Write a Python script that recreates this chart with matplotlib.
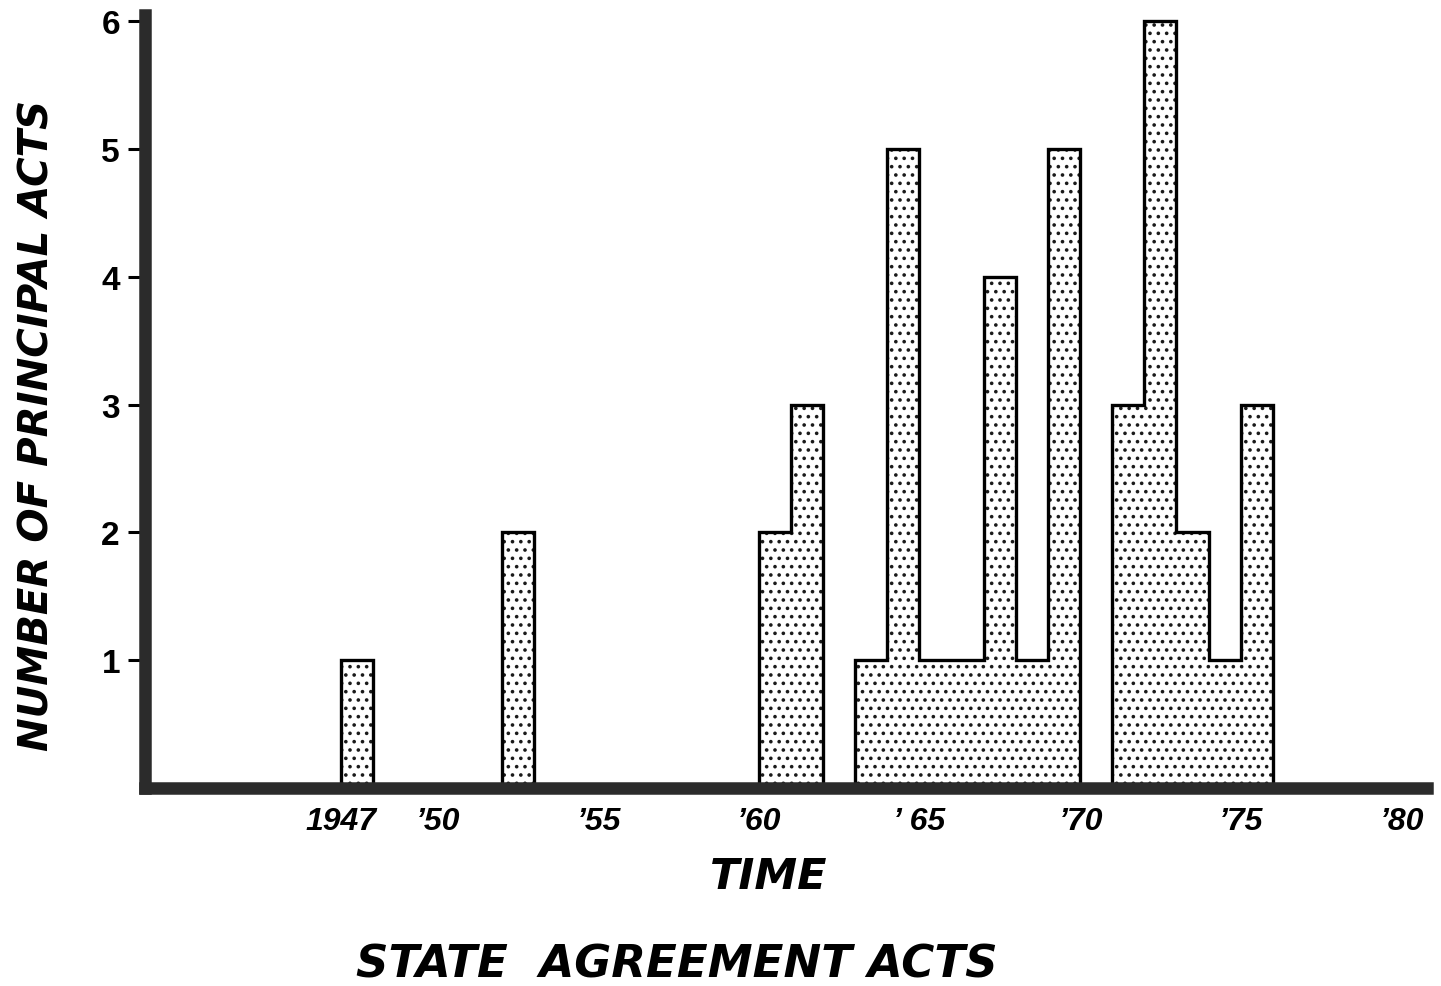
import matplotlib
matplotlib.use("Agg")
import matplotlib.pyplot as plt
import numpy as np

# --- Data ---
years = [1947, 1948, 1949, 1950, 1951, 1952, 1953, 1954, 1955, 1956, 1957, 1958,
         1959, 1960, 1961, 1962, 1963, 1964, 1965, 1966, 1967, 1968, 1969, 1970,
         1971, 1972, 1973, 1974, 1975]
acts = [1, 0, 0, 0, 0, 2, 0, 0, 0, 0, 0, 0,
        0, 2, 3, 0, 1, 5, 1, 1, 4, 1, 5, 0,
        3, 6, 2, 1, 3]
tick_years = [1947, 1950, 1955, 1960, 1965, 1970, 1975, 1980]
tick_labels = ["1947", "\u201950", "\u201955", "\u201960", "\u2019 65", "\u201970", "\u201975", "\u201980"]

plt.rcParams["font.family"] = ["Liberation Sans", "DejaVu Sans"]
plt.rcParams["hatch.color"] = "#1a1a1a"
plt.rcParams["hatch.linewidth"] = 1.4

fig = plt.figure(figsize=(14.41, 9.87), dpi=100)
ax = fig.add_axes([0.1006, 0.2006, 0.8897, 0.7832])

edges = np.append(years, years[-1] + 1)

# dotted fill, then the stepped outline on top
ax.stairs(acts, edges, baseline=0, fill=True, facecolor="white",
          hatch="..", linewidth=0, edgecolor="#1a1a1a")
ax.stairs(acts, edges, baseline=0, fill=False, color="black", linewidth=2.4)

ax.set_xlim(1940.9, 1980.8)
ax.set_ylim(0, 6.05)

for s in ["top", "right"]:
    ax.spines[s].set_visible(False)
for s in ["left", "bottom"]:
    ax.spines[s].set_linewidth(9)
    ax.spines[s].set_color("#2b2b2b")
    ax.spines[s].set_zorder(5)

ax.set_yticks([1, 2, 3, 4, 5, 6])
ax.set_yticklabels(["1", "2", "3", "4", "5", "6"])
ax.tick_params(axis="y", length=12, width=2.2, pad=6, labelsize=24, color="black")
for lab in ax.get_yticklabels():
    lab.set_fontweight("bold")

ax.set_xticks(tick_years)
ax.set_xticklabels(tick_labels)
ax.tick_params(axis="x", length=0, pad=13, labelsize=23)
for lab in ax.get_xticklabels():
    lab.set_fontweight("bold")
    lab.set_fontstyle("italic")

title_font = ["DejaVu Sans"]
fig.text(0.0257, 0.5694, "NUMBER OF PRINCIPAL ACTS", rotation=90, family=title_font,
         ha="center", va="center", fontsize=29, fontweight="bold", fontstyle="italic")
fig.text(0.5336, 0.1115, "TIME", ha="center", va="center", family=title_font,
         fontsize=31, fontweight="bold", fontstyle="italic")
fig.text(0.4695, 0.0223, "STATE  AGREEMENT ACTS", ha="center", va="center", family=title_font,
         fontsize=32.5, fontweight="bold", fontstyle="italic")

fig.savefig("out.png", dpi=100)
